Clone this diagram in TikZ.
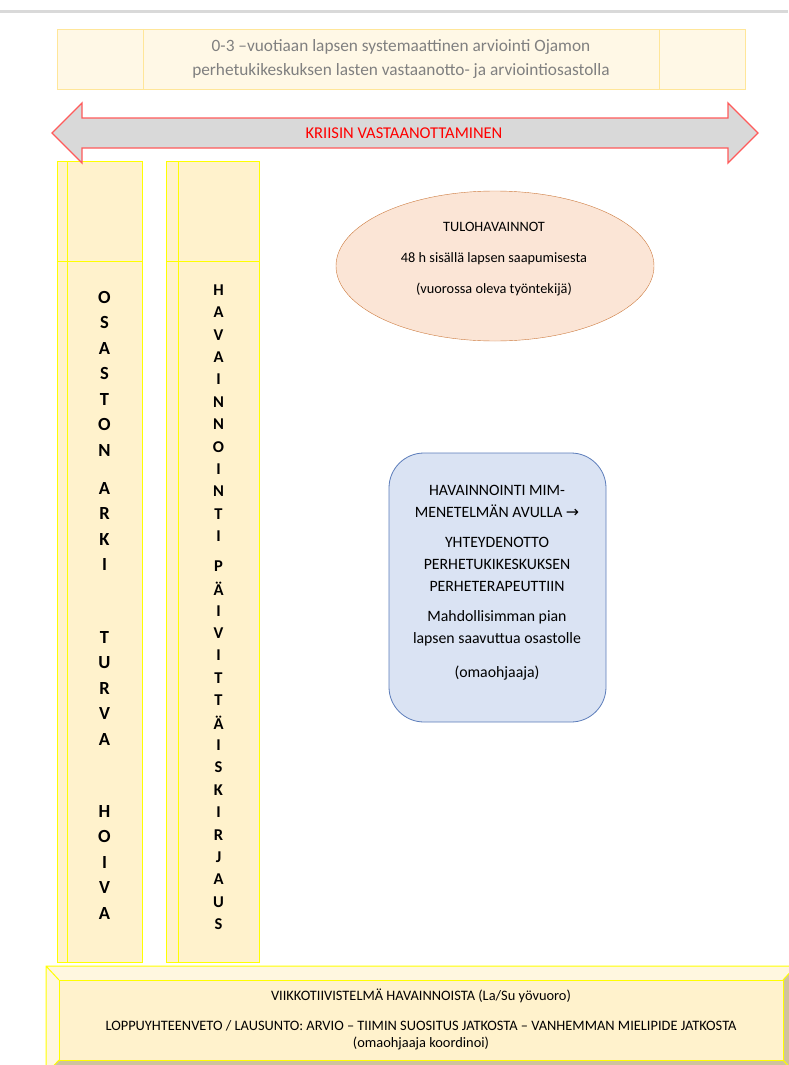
\documentclass[tikz,border=0pt]{standalone}
\usepackage{fontspec}
\setmainfont{Carlito}
\newfontfamily\arrowfont{DejaVu Sans}
\usetikzlibrary{shapes.geometric}
\definecolor{bannerfill}{HTML}{FFF8E6}
\definecolor{bannerline}{HTML}{FFE699}
\definecolor{paleyellow}{HTML}{FFF2CC}
\definecolor{lineyellow}{HTML}{FFFF00}
\definecolor{crisisfill}{HTML}{D9D9D9}
\definecolor{crisisline}{HTML}{FF5B5B}
\definecolor{peach}{HTML}{FBE5D6}
\definecolor{peachline}{HTML}{CC7A3E}
\definecolor{paleblue}{HTML}{DAE3F3}
\definecolor{blueline}{HTML}{5B7CBA}
\definecolor{bevellight}{HTML}{FFF7E0}
\definecolor{beveldark}{HTML}{CFC39E}
\begin{document}
\begin{tikzpicture}[x=1pt,y=-1pt,
	column/.style={draw=lineyellow,fill=paleyellow,line width=1pt},
	bigletter/.style={font=\bfseries\fontsize{18.5}{18}\selectfont,inner sep=0pt},
	smallletter/.style={font=\bfseries\fontsize{16.5}{16}\selectfont,inner sep=0pt}]
	\useasboundingbox (0,0) rectangle (788,1065);
	\draw[gray!30,line width=3pt] (0,12) -- (788,12);
	\draw[bannerline,fill=bannerfill] (57,29) rectangle (745,89);
	\draw[bannerline] (143,29) -- (143,89) (659,29) -- (659,89);
	\node[text=gray,align=center,font=\fontsize{17.3}{24}\selectfont] (banner) at (401,59)
		{0-3 –vuotiaan lapsen systemaattinen arviointi Ojamon\\perhetukikeskuksen lasten vastaanotto- ja arviointiosastolla};
	\foreach \a/\b/\c in {57/67/142,166/178/259}
	{
		\draw[column] (\a,161) rectangle (\c,962);
		\draw[column] (\b,161) -- (\b,962) (\a,261) -- (\c,261);
	}
	\draw[crisisline,fill=crisisfill,line width=1.3pt] (52,133) -- (82,103) -- (82,118) -- (728,118) -- (728,103) -- (758,133)
		-- (728,163) -- (728,148) -- (82,148) -- (82,163) -- cycle;
	\node[text=red,font=\fontsize{16.5}{16}\selectfont] (crisis) at (404,133) {KRIISIN VASTAANOTTAMINEN};
	\foreach \w/\y in {{O,S,A,S,T,O,N}/297,{A,R,K,I}/488,{T,U,R,V,A}/637,{H,O,I,V,A}/811}
		\foreach \l [count=\i from 0] in \w
			\node[bigletter] (arki-\y-\i) at (104.5,\y+25.5*\i) {\l};
	\foreach \w/\y in {{H,A,V,A,I,N,N,O,I,N,T,I}/290,{P,Ä,I,V,I,T,T,Ä,I,S,K,I,R,J,A,U,S}/566}
		\foreach \l [count=\i from 0] in \w
			\node[smallletter] (kirjaus-\y-\i) at (218.5,\y+22.4*\i) {\l};
	\node[ellipse,draw=peachline,fill=peach,minimum width=318,minimum height=150] (tulo) at (495,266) {};
	\node[align=center,font=\fontsize{14.3}{31}\selectfont] (tulotext) at (494,259)
		{TULOHAVAINNOT\\48 h sisällä lapsen saapumisesta\\(vuorossa oleva työntekijä)};
	\node[draw=blueline,fill=paleblue,rounded corners=35,line width=0.8pt,minimum width=217,minimum height=269] (mim) at (497.5,587.5) {};
	\node[align=center,font=\fontsize{15.8}{22}\selectfont] (mimtext) at (497,583)
		{HAVAINNOINTI MIM-\\MENETELMÄN AVULLA {\arrowfont →}\\[8pt]YHTEYDENOTTO\\PERHETUKIKESKUKSEN\\PERHETERAPEUTTIIN\\[8pt]Mahdollisimman pian\\lapsen saavuttua osastolle\\[12pt](omaohjaaja)};
	\fill[bevellight] (46,966) -- (796,966) -- (783,980) -- (59,980) -- cycle;
	\fill[bevellight] (46,966) -- (59,980) -- (59,1060) -- (46,1074) -- cycle;
	\fill[beveldark] (46,1074) -- (59,1060) -- (783,1060) -- (796,1074) -- cycle;
	\fill[beveldark] (796,966) -- (783,980) -- (783,1060) -- (796,1074) -- cycle;
	\draw[lineyellow,line width=1pt] (46,966) rectangle (796,1074) (46,966) -- (59,980) (796,966) -- (783,980)
		(46,1074) -- (59,1060) (796,1074) -- (783,1060);
	\node[draw=lineyellow,fill=paleyellow,line width=1pt,minimum width=724,minimum height=80] (summary) at (421,1020) {};
	\node[align=center,font=\fontsize{14.4}{17}\selectfont] (summarytext) at (421,1019)
		{VIIKKOTIIVISTELMÄ HAVAINNOISTA (La/Su yövuoro)\\[13pt]LOPPUYHTEENVETO / LAUSUNTO: ARVIO – TIIMIN SUOSITUS JATKOSTA – VANHEMMAN MIELIPIDE JATKOSTA\\(omaohjaaja koordinoi)};
\end{tikzpicture}
\end{document}
